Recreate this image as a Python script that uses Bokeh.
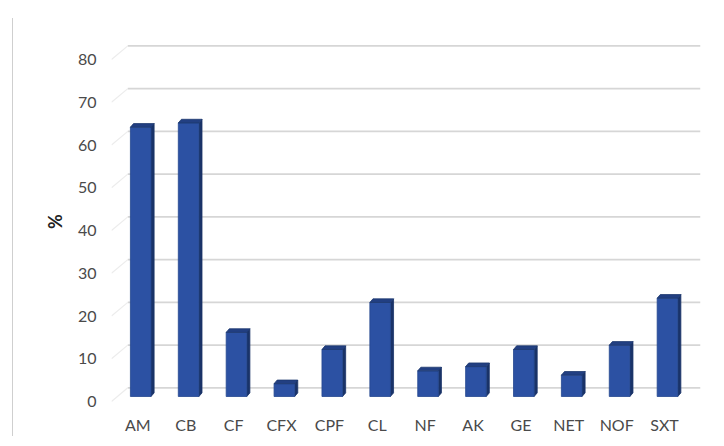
from bokeh.plotting import figure
from bokeh.models import Range1d, FixedTicker
from bokeh.embed import file_html
from bokeh.resources import INLINE

categories = ["AM", "CB", "CF", "CFX", "CPF", "CL", "NF", "AK", "GE", "NET", "NOF", "SXT"]
values = [63, 64, 15, 3, 11, 22, 6, 7, 11, 5, 12, 23]
y_ticks = [0, 10, 20, 30, 40, 50, 60, 70, 80]

FONT = "Lato"
TXT = "#4a4a4a"

p = figure(frame_width=589, frame_height=382, output_backend="svg", toolbar_location=None,
           x_range=Range1d(-0.55, 11.75), y_range=Range1d(-2.57, 86.79),
           min_border_left=98, min_border_right=12, min_border_top=12,
           min_border_bottom=22)
p.margin = (18, 0, 0, 12)
p.styles = {"border-left": "1px solid #cfcfcf"}
p.outline_line_color = None
p.xgrid.visible = False
p.ygrid.visible = False
p.background_fill_color = "white"
p.border_fill_color = "white"

# 3D geometry (in data units)
wall_dy = 3.2      # back wall offset (y)
wall_x0 = -0.21    # back wall start (x)
base = 1.17        # bar base height above front axis zero
shift = 0.06       # bar offset to the right of the tick
hw = 0.215         # half front width
dx = 0.065         # bar depth in x
dy = 0.85          # bar depth in y

# back-wall gridlines
gx = [[wall_x0, 11.75] for t in y_ticks]
gy = [[t + wall_dy, t + wall_dy] for t in y_ticks]
p.multi_line(gx, gy, line_color="#d6d6d6", line_width=1.6)
# left wall diagonals
lx = [[-0.55, wall_x0] for t in y_ticks]
ly = [[t, t + wall_dy] for t in y_ticks]
p.multi_line(lx, ly, line_color="#ececec", line_width=1.2)

xc = [i + shift for i in range(len(categories))]
left = [x - hw for x in xc]
right = [x + hw for x in xc]
top = [v + base for v in values]

side_xs = [[r, r + dx, r + dx, r] for r in right]
side_ys = [[base, base + dy, t + dy, t] for t in top]
top_xs = [[l, l + dx, r + dx, r] for l, r in zip(left, right)]
top_ys = [[t, t + dy, t + dy, t] for t in top]

p.patches(side_xs, side_ys, fill_color="#1a3368", line_color="#1a3368", line_width=0.8)
p.quad(left=left, right=right, bottom=base, top=top,
       fill_color="#2c51a3", line_color="#24478f", line_width=0.8)
p.patches(top_xs, top_ys, fill_color="#223f82", line_color="#1d386f", line_width=0.8)

# axes
p.xaxis.ticker = FixedTicker(ticks=list(range(len(categories))))
p.xaxis.major_label_overrides = {i: c for i, c in enumerate(categories)}
p.xaxis.axis_line_color = None
p.xaxis.major_tick_line_color = None
p.xaxis.minor_tick_line_color = None
p.xaxis.major_tick_out = 0
p.xaxis.major_label_standoff = 2
p.xaxis.major_label_text_font = FONT
p.xaxis.major_label_text_font_size = "16px"
p.xaxis.major_label_text_color = TXT

p.yaxis.ticker = FixedTicker(ticks=y_ticks)
p.yaxis.axis_line_color = None
p.yaxis.major_tick_line_color = None
p.yaxis.minor_tick_line_color = None
p.yaxis.major_tick_out = 0
p.yaxis.major_label_standoff = 15
p.yaxis.major_label_text_font = FONT
p.yaxis.major_label_text_font_size = "16px"
p.yaxis.major_label_text_color = TXT
p.yaxis.axis_label = "%"
p.yaxis.axis_label_standoff = 9
p.yaxis.axis_label_text_font = FONT
p.yaxis.axis_label_text_font_size = "18px"
p.yaxis.axis_label_text_font_style = "bold"
p.yaxis.axis_label_text_color = "#222222"

open("out.html", "w").write(file_html(p, INLINE))
